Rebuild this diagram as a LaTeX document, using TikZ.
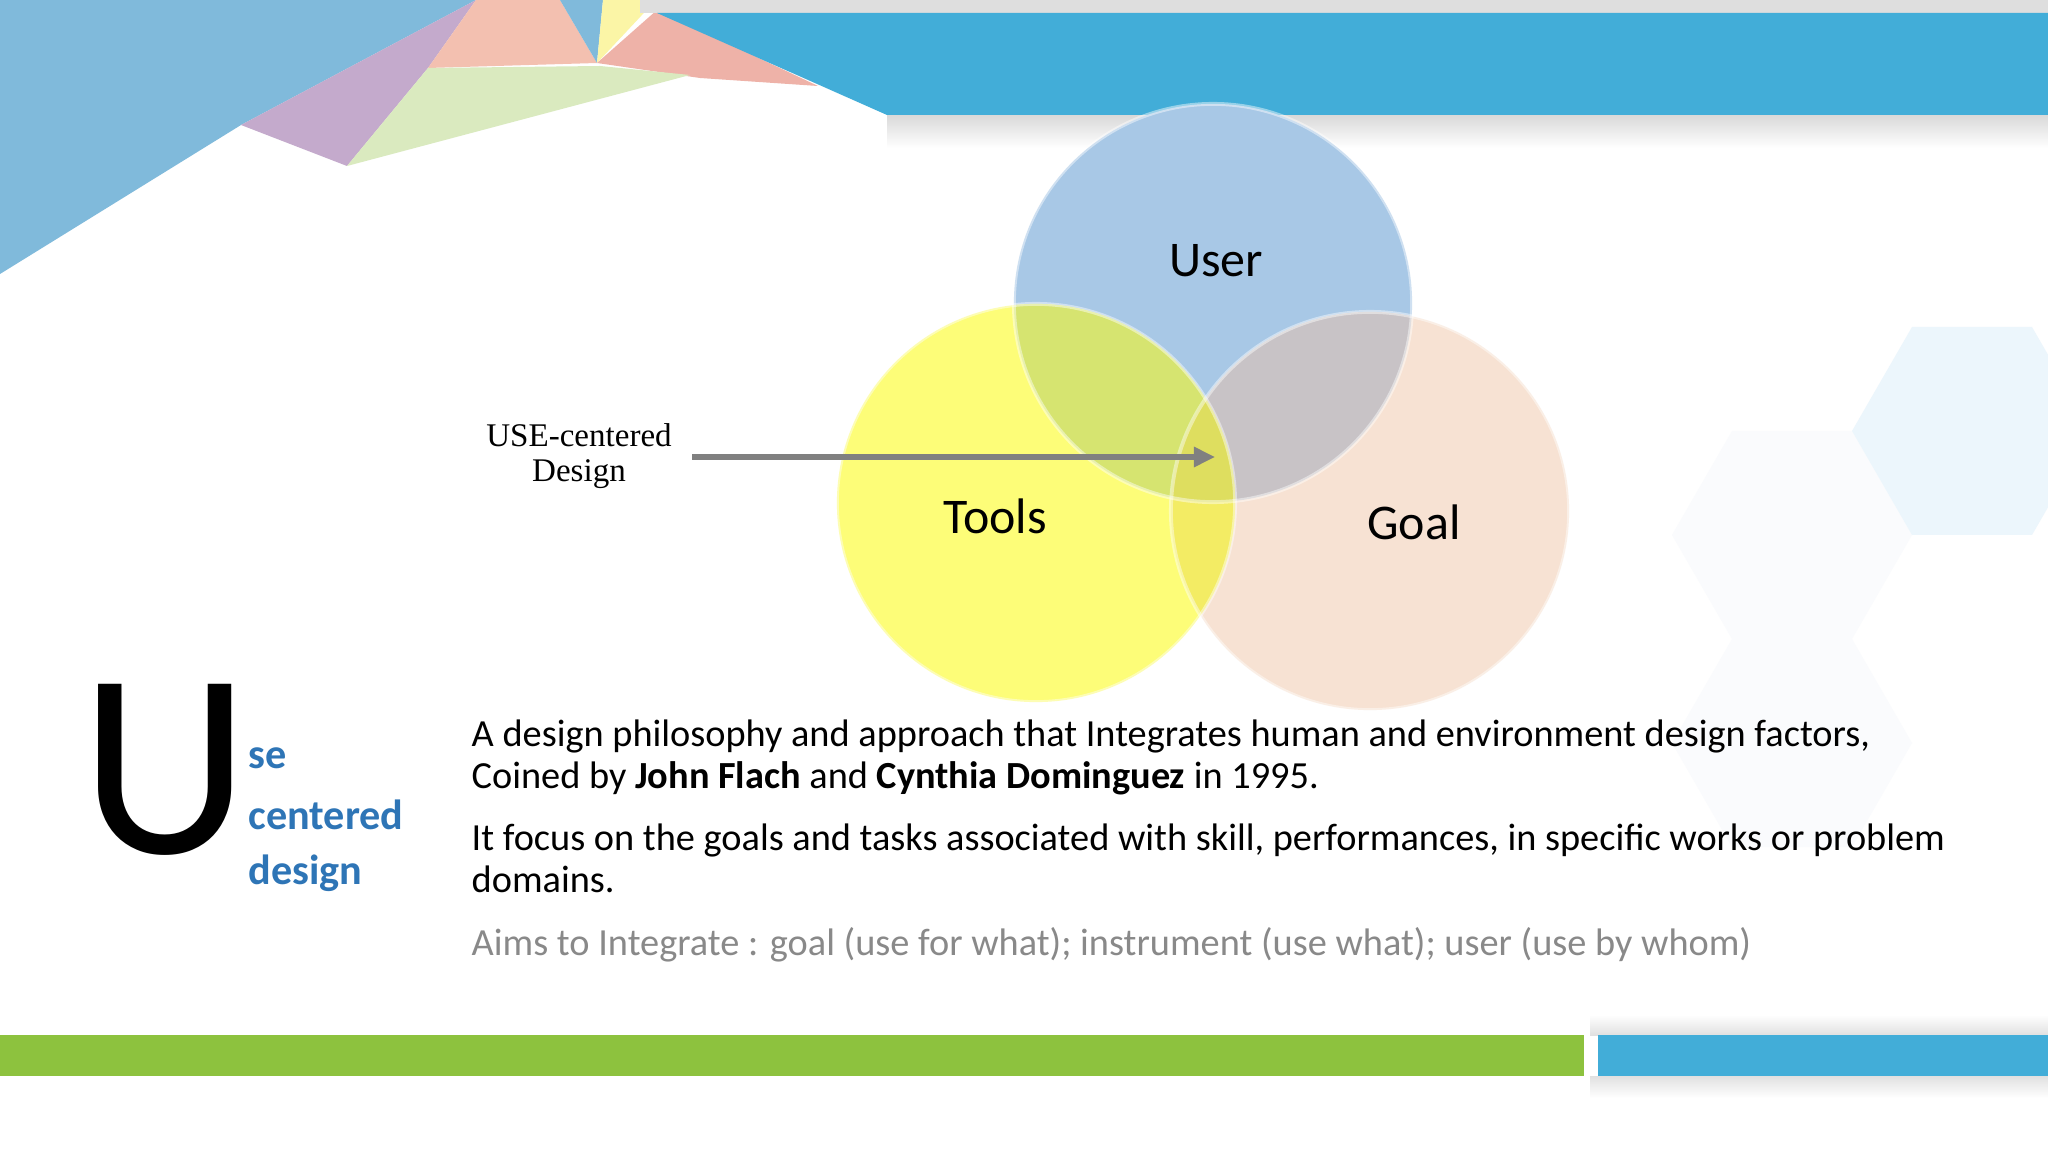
\documentclass[tikz,border=0pt]{standalone}
\usepackage{fontspec}
\setmainfont{Carlito}
\newfontfamily\serifrm{Liberation Serif}
\usetikzlibrary{arrows.meta}
\definecolor{barblue}{RGB}{66,173,216}
\definecolor{barg}{RGB}{141,194,62}
\definecolor{triblue}{RGB}{128,186,219}
\definecolor{tripurple}{RGB}{196,170,204}
\definecolor{tripink}{RGB}{243,192,176}
\definecolor{tripinkb}{RGB}{238,178,168}
\definecolor{triyellow}{RGB}{251,245,166}
\definecolor{trigreen}{RGB}{218,234,191}
\definecolor{userc}{RGB}{168,200,230}
\definecolor{toolc}{RGB}{253,253,120}
\definecolor{goalc}{RGB}{247,226,211}
\definecolor{ugc}{RGB}{200,195,198}
\definecolor{utc}{RGB}{214,228,112}
\definecolor{tgc}{RGB}{243,236,100}
\definecolor{utgc}{RGB}{222,222,95}
\definecolor{txtblue}{RGB}{46,117,182}
\definecolor{arrgray}{RGB}{128,128,128}
\definecolor{txtgray}{RGB}{137,137,137}
\definecolor{hexa}{RGB}{236,246,252}
\definecolor{hexb}{RGB}{250,251,253}
\tikzset{
  vlabel/.style={font=\fontsize{14.2pt}{16pt}\selectfont, inner sep=0pt},
  para/.style={font=\fontsize{10.9pt}{12pt}\selectfont, anchor=base west, inner sep=0pt},
  side/.style={font=\fontsize{12pt}{14pt}\selectfont\bfseries, text=txtblue, anchor=base west, inner sep=0pt},
  venn/.style={circle, minimum size=3.98cm, inner sep=0pt},
  rim/.style={draw=white, draw opacity=0.45, line width=1.1pt},
  arrowline/.style={draw=arrgray, line width=1.45pt, -{Triangle[length=6pt,width=5.5pt]}}
}
\begin{document}
\begin{tikzpicture}[x=0.01cm,y=-0.01cm]
\useasboundingbox (0,0) rectangle (2048,1152);
\fill[white] (0,0) rectangle (2048,1152);
% faint background hexagons
\fill[hexb] (1672,535) -- (1732,431) -- (1852,431) -- (1912,535) -- (1852,639) -- (1732,639) -- cycle;
\fill[hexb] (1672,743) -- (1732,639) -- (1852,639) -- (1912,743) -- (1852,847) -- (1732,847) -- cycle;
\fill[hexa] (1852,431) -- (1912,327) -- (2032,327) -- (2092,431) -- (2032,535) -- (1912,535) -- cycle;
% top-left triangles
\fill[triblue] (0,0) -- (476,0) -- (241,125) -- (0,274) -- cycle;
\fill[tripurple] (241,125) -- (476,0) -- (428,68) -- (347,166) -- cycle;
\fill[tripink] (476,0) -- (560,0) -- (597,63) -- (428,68) -- cycle;
\fill[triblue] (560,0) -- (603,0) -- (597,63) -- cycle;
\fill[triyellow] (603,0) -- (656,0) -- (597,63) -- cycle;
\fill[tripinkb] (597,63) -- (657,10) -- (818,86) -- (700,78) -- cycle;
\fill[trigreen] (428,68) -- (600,66) -- (690,75) -- (347,166) -- cycle;
% top bar
\fill[black!13] (640,0) rectangle (2048,13);
\shade[top color=black!15, bottom color=white] (887,115) rectangle (2048,148);
\fill[barblue] (657,13) -- (2048,13) -- (2048,115) -- (887,115) -- cycle;
% bottom bars
\shade[top color=white, bottom color=black!12] (1590,1015) rectangle (2048,1035);
\shade[top color=black!12, bottom color=white] (1590,1076) rectangle (2048,1098);
\fill[barg] (0,1035) rectangle (1584,1076);
\fill[barblue] (1598,1035) rectangle (2048,1076);
% Venn circles
\node[venn, fill=userc] (user) at (1213,303) {};
\node[venn, fill=goalc] (goal) at (1370,511) {};
\begin{scope}
  \clip (1213,303) circle (1.99cm);
  \fill[ugc] (1370,511) circle (1.99cm);
\end{scope}
\node[venn, fill=toolc] (tools) at (1036,503) {};
\begin{scope}
  \clip (1036,503) circle (1.99cm);
  \fill[tgc] (1370,511) circle (1.99cm);
  \fill[utc] (1213,303) circle (1.99cm);
  \clip (1213,303) circle (1.99cm);
  \fill[utgc] (1370,511) circle (1.99cm);
\end{scope}
\draw[rim] (1213,303) circle (1.99cm);
\draw[rim] (1370,511) circle (1.99cm);
\draw[rim] (1036,503) circle (1.99cm);
\node[vlabel] (userlbl) at (1216,261) {User};
\node[vlabel] (toolslbl) at (995,516) {Tools};
\node[vlabel] (goallbl) at (1414,522) {Goal};
% USE-centered label and arrow
\node[font=\serifrm\fontsize{9.4pt}{9.8pt}\selectfont, align=center, inner sep=0pt] (usec) at (579,456) {USE-centered\\Design};
\coordinate (arrowend) at (1215,457);
\draw[arrowline] ([xshift=0.2cm]usec.east |- arrowend) -- (arrowend);
% big U and side words
\node[font=\fontsize{75pt}{80pt}\selectfont, anchor=base west, inner sep=0pt] (bigu) at (80,853) {U};
\node[side] (se) at (248,768) {se};
\node[side] (centered) at (248,829) {centered};
\node[side] (design) at (248,884) {design};
% paragraph text
\node[para] (l1) at (471,746) {A design philosophy and approach that Integrates human and environment design factors,};
\node[para] (l2) at (471,788) {Coined by \textbf{John Flach} and \textbf{Cynthia Dominguez} in 1995.};
\node[para] (l3) at (471,850) {It focus on the goals and tasks associated with skill, performances, in specific works or problem};
\node[para] (l4) at (471,892) {domains.};
\node[para, text=txtgray] (l5) at (471,955) {Aims to Integrate : goal (use for what); instrument (use what); user (use by whom)};
\end{tikzpicture}
\end{document}
